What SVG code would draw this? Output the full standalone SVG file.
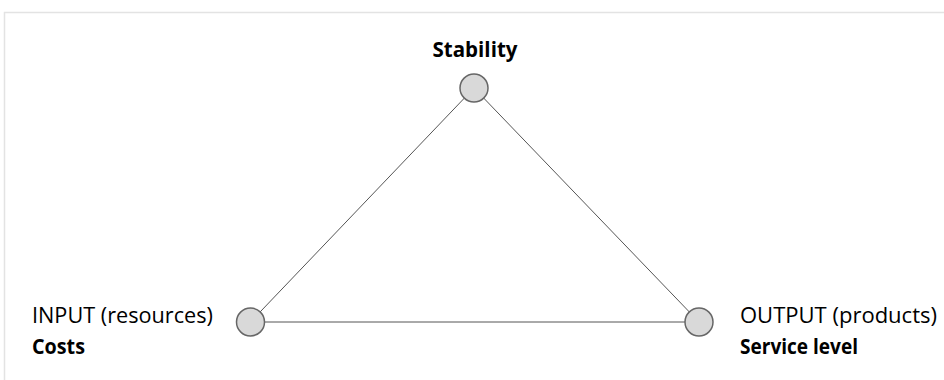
<svg xmlns="http://www.w3.org/2000/svg" width="944" height="380" viewBox="0 0 944 380">
<style>
.t{font-family:"Open Sans","Noto Sans",sans-serif;font-size:21.5px;fill:#000}
.b{font-weight:bold;font-size:21px}
.n{fill:#d9d9d9;stroke:#666;stroke-width:1.5}
.e{stroke:#555;stroke-width:1;fill:none}
</style>
<rect width="944" height="380" fill="#fff"/>
<path d="M4.5 380V12.5H944" fill="none" stroke="#e3e3e3" stroke-width="1.5"/>
<g id="connectors">
<line class="e" x1="474" y1="88" x2="250.5" y2="322"/>
<line class="e" x1="474" y1="88" x2="699" y2="322"/>
<line class="e" x1="250.5" y1="322" x2="699" y2="322"/>
</g>
<g id="stability">
<circle class="n" cx="474" cy="88" r="14"/>
<text class="t b" x="475" y="57" text-anchor="middle" textLength="85" lengthAdjust="spacingAndGlyphs">Stability</text>
</g>
<g id="input">
<circle class="n" cx="250.5" cy="322" r="14"/>
<text class="t" x="32" y="323" textLength="181" lengthAdjust="spacingAndGlyphs">INPUT (resources)</text>
<text class="t b" x="32" y="354" textLength="53" lengthAdjust="spacingAndGlyphs">Costs</text>
</g>
<g id="output">
<circle class="n" cx="699" cy="322" r="14"/>
<text class="t" x="740" y="323" textLength="197" lengthAdjust="spacingAndGlyphs">OUTPUT (products)</text>
<text class="t b" x="740" y="354" textLength="118" lengthAdjust="spacingAndGlyphs">Service level</text>
</g>
</svg>
